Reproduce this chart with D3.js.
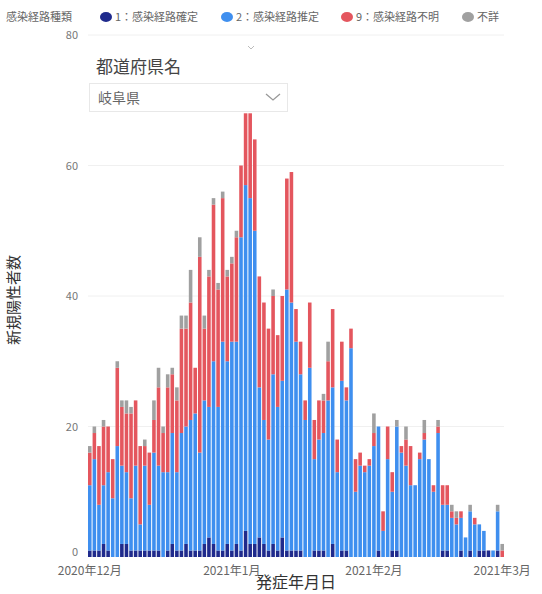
<!DOCTYPE html>
<html><head><meta charset="utf-8">
<script src="https://cdn.jsdelivr.net/npm/d3@7"></script>
<style>
body{margin:0;background:#fff;font-family:"Noto Sans CJK JP","Noto Sans",sans-serif;}
</style>
</head><body>
<svg id="c" width="542" height="594"></svg>
<script>
// ---- data ----
const startDate = "2020-12-01";
const seriesKeys = ["1：感染経路確定", "2：感染経路推定", "9：感染経路不明", "不詳"];
const seriesColors = ["#1f2a8c", "#3f8fef", "#e4565e", "#a0a0a0"];
const confirmed = [1,1,1,2,1,0,0,2,2,1, 1,1,1,1,1,1,0,1,2,1, 1,2,1,1,1,2,3,2,1,1,
  2,1,2,1,4,2,2,3,2,1, 2,1,3,1,1,1,1,0,0,1, 1,1,0,2,0,1,1,0,0,0,
  0,0,0,1,0,0,1,1,0,0, 0,0,0,0,0,0,0,1,1,0, 0,1,0,1,0,1,1,1,0,1, 0];
const estimated = [10,14,7,9,12,9,17,12,11,8, 13,4,13,7,15,13,13,12,17,12, 18,18,20,21,15,22,20,28,22,32,
  28,32,31,48,53,53,48,23,19,17, 26,22,24,40,38,32,27,21,29,14, 17,18,24,24,13,26,23,32,10,14,
  13,14,17,19,4,15,9,19,16,14, 11,11,15,18,15,10,19,7,7,6, 5,5,3,6,5,4,3,0,1,6, 0];
const unknown = [5,4,9,9,7,6,12,9,9,13, 10,12,3,8,5,12,6,13,9,11, 16,15,18,7,30,11,20,24,18,22,
  13,12,16,11,11,13,14,17,18,17, 12,11,13,17,20,5,5,3,10,6, 6,5,6,12,5,6,2,3,5,2,
  1,1,2,0,3,5,3,0,1,4, 6,0,1,1,0,1,1,3,3,1, 1,1,0,0,1,0,0,0,0,0, 1];
const unspecified = [1,1,0,1,0,0,1,1,2,1, 0,0,1,0,3,3,1,2,1,2, 2,2,5,0,3,2,1,1,1,1,
  1,1,1,0,0,0,0,0,0,0, 1,0,0,0,0,0,0,0,0,0, 0,1,3,0,0,0,0,0,0,0,
  0,0,3,0,0,0,0,1,0,2, 0,0,0,2,0,0,1,0,0,1, 1,0,0,1,0,0,0,0,0,1, 1];
const yTicks = [0, 20, 40, 60, 80];
const xTickDates = ["2020-12-01", "2021-01-01", "2021-02-01", "2021-03-01"];
const xTickLabels = ["2020年12月", "2021年1月", "2021年2月", "2021年3月"];
const legendTitle = "感染経路種類";
const yTitle = "新規陽性者数";
const xTitle = "発症年月日";
const filterLabel = "都道府県名";
const filterValue = "岐阜県";

// ---- build ----
const fmt = d3.timeFormat("%Y-%m-%d");
const parse = d3.timeParse("%Y-%m-%d");
const start = parse(startDate);
const days = d3.timeDay.range(start, d3.timeDay.offset(start, confirmed.length)).map(fmt);
const rows = days.map((d, i) => ({
  date: d,
  [seriesKeys[0]]: confirmed[i],
  [seriesKeys[1]]: estimated[i],
  [seriesKeys[2]]: unknown[i],
  [seriesKeys[3]]: unspecified[i]
}));

const svg = d3.select("#c");
const mLeft = 88, mRight = 504, mTop = 35, mBottom = 557;

const x = d3.scaleBand().domain(days).range([mLeft, mRight]).paddingInner(0.22).paddingOuter(0);
const y = d3.scaleLinear().domain([0, 80]).range([mBottom, mTop]);
const color = d3.scaleOrdinal().domain(seriesKeys).range(seriesColors);

// gridlines
svg.append("g").selectAll("line").data(yTicks.slice(1)).join("line")
  .attr("x1", mLeft).attr("x2", mRight)
  .attr("y1", d => y(d)).attr("y2", d => y(d))
  .attr("stroke", "#f0f0f0").attr("stroke-width", 1);

// bars
const stacked = d3.stack().keys(seriesKeys)(rows);
svg.append("g").selectAll("g").data(stacked).join("g")
  .attr("fill", s => color(s.key))
  .selectAll("rect").data(s => s).join("rect")
  .attr("x", d => x(d.data.date))
  .attr("width", x.bandwidth())
  .attr("y", d => y(d[1]))
  .attr("height", d => Math.max(0, y(d[0]) - y(d[1])));

// y axis
const yAxis = svg.append("g").attr("transform", `translate(${mLeft - 10},0)`)
  .call(d3.axisLeft(y).tickValues(yTicks).tickSize(0).tickPadding(0));
yAxis.select(".domain").remove();
yAxis.selectAll("text").attr("fill", "#777").style("font-size", "11px")
  .attr("dy", d => d === 0 ? "-0.15em" : "0.32em")
  .style("font-family", '"Noto Sans CJK JP","Noto Sans",sans-serif');

// x axis
const xAxis = svg.append("g").attr("transform", `translate(0,${mBottom})`)
  .call(d3.axisBottom(x).tickValues(xTickDates).tickSize(0).tickPadding(9)
    .tickFormat(d => xTickLabels[xTickDates.indexOf(d)]));
xAxis.select(".domain").remove();
xAxis.selectAll("text").attr("fill", "#666").style("font-size", "12px")
  .style("font-family", '"Noto Sans CJK JP","Noto Sans",sans-serif');

// axis titles
svg.append("text").attr("x", (mLeft + mRight) / 2).attr("y", 588)
  .attr("text-anchor", "middle").attr("fill", "#333").style("font-size", "16px")
  .text(xTitle);
svg.append("text").attr("transform", "translate(19,300) rotate(-90)")
  .attr("text-anchor", "middle").attr("fill", "#333").style("font-size", "15px")
  .text(yTitle);

// legend
const lg = svg.append("g").style("font-size", "11px");
lg.append("text").attr("x", 6).attr("y", 21).attr("fill", "#666").text(legendTitle);
const legendX = [106, 227, 347, 468];
seriesKeys.forEach((k, i) => {
  lg.append("ellipse").attr("cx", legendX[i]).attr("cy", 17).attr("rx", 6).attr("ry", 5)
    .attr("fill", color(k));
  lg.append("text").attr("x", legendX[i] + 9).attr("y", 21).attr("fill", "#666").text(k);
});

// small caret near top
svg.append("path").attr("d", "M248,46 L251,49 L254,46").attr("fill", "none")
  .attr("stroke", "#bbb").attr("stroke-width", 1);

// filter control
svg.append("text").attr("x", 96).attr("y", 73).attr("fill", "#444")
  .style("font-size", "17px").text(filterLabel);
svg.append("rect").attr("x", 89.5).attr("y", 83.5).attr("width", 198).attr("height", 28)
  .attr("fill", "#fff").attr("stroke", "#e8e8e8");
svg.append("text").attr("x", 98).attr("y", 103).attr("fill", "#666")
  .style("font-size", "14px").text(filterValue);
svg.append("path").attr("d", "M266,94 L273,100 L280,94").attr("fill", "none")
  .attr("stroke", "#999").attr("stroke-width", 1.3);
</script>
</body></html>
